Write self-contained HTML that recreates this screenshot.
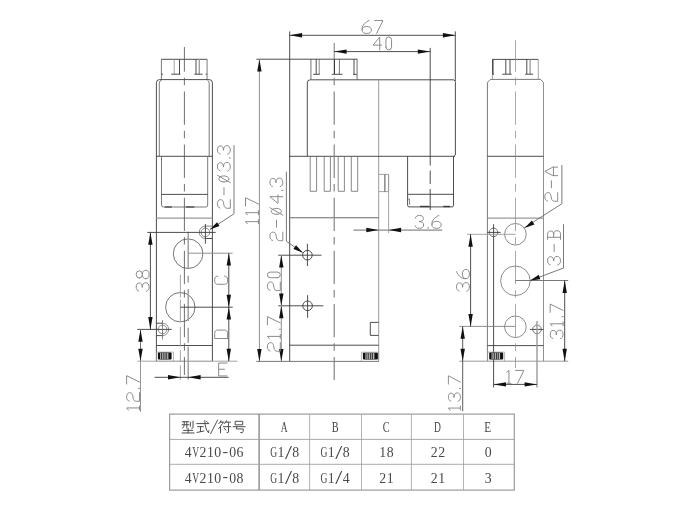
<!DOCTYPE html>
<html lang="en">
<head>
<meta charset="utf-8">
<title>4V210 solenoid valve dimensions</title>
<style>
html,body{margin:0;padding:0;background:#fff;}
body{width:693px;height:511px;overflow:hidden;font-family:"Liberation Sans",sans-serif;}
svg{will-change:transform;}
svg text{font-family:"Liberation Serif",serif;}
</style>
</head>
<body>
<svg width="693" height="511" viewBox="0 0 693 511" style="display:block" shape-rendering="geometricPrecision">
<line x1="161.1" y1="59.3" x2="207.3" y2="59.3" stroke="#3a3a3a" stroke-width="0.9"/>
<line x1="161.4" y1="59.3" x2="161.4" y2="79.8" stroke="#6a6a6a" stroke-width="0.9"/>
<line x1="161.4" y1="74.2" x2="163.0" y2="74.2" stroke="#3a3a3a" stroke-width="0.9"/>
<line x1="207.1" y1="59.3" x2="207.1" y2="79.8" stroke="#9a9a9a" stroke-width="1.3"/>
<line x1="205.6" y1="74.2" x2="207.1" y2="74.2" stroke="#3a3a3a" stroke-width="0.9"/>
<line x1="174.2" y1="59.3" x2="174.2" y2="74.2" stroke="#9a9a9a" stroke-width="0.9"/>
<line x1="179.5" y1="59.3" x2="179.5" y2="74.2" stroke="#3a3a3a" stroke-width="0.9"/>
<line x1="171.2" y1="74.2" x2="180.4" y2="74.2" stroke="#3a3a3a" stroke-width="0.9"/>
<line x1="196.0" y1="59.3" x2="196.0" y2="74.2" stroke="#3a3a3a" stroke-width="0.9"/>
<line x1="199.3" y1="59.3" x2="199.3" y2="74.2" stroke="#9a9a9a" stroke-width="1.3"/>
<line x1="194.4" y1="74.2" x2="202.6" y2="74.2" stroke="#3a3a3a" stroke-width="0.9"/>
<path d="M156.4,361.2 V82.8 Q156.4,79.6 159.6,79.6 H209.3 Q212.4,79.6 212.4,82.8 V361.2" stroke="#3a3a3a" stroke-width="0.9" fill="none" />
<path d="M159.3,156.3 V83.2 Q159.4,80.8 161.7,80.0" stroke="#6a6a6a" stroke-width="0.9" fill="none" />
<path d="M209.2,156.3 V83.2 Q209.1,80.8 207.3,80.0" stroke="#6a6a6a" stroke-width="0.9" fill="none" />
<line x1="156.4" y1="156.3" x2="212.4" y2="156.3" stroke="#3a3a3a" stroke-width="0.9"/>
<path d="M161.5,156.3 V205 Q161.5,207 163.5,207 H205.7 Q207.7,207 207.7,205 V156.3" stroke="#6a6a6a" stroke-width="0.9" fill="none" />
<line x1="161.5" y1="194.4" x2="207.7" y2="194.4" stroke="#3a3a3a" stroke-width="0.9"/>
<line x1="164.8" y1="207" x2="171.8" y2="207" stroke="#3a3a3a" stroke-width="1.15"/>
<line x1="185.9" y1="207" x2="194.4" y2="207" stroke="#3a3a3a" stroke-width="1.15"/>
<line x1="156.4" y1="218.2" x2="212.4" y2="218.2" stroke="#9a9a9a" stroke-width="1.3"/>
<line x1="156.4" y1="345.5" x2="212.4" y2="345.5" stroke="#3a3a3a" stroke-width="0.9"/>
<line x1="156.4" y1="361.2" x2="212.4" y2="361.2" stroke="#808080" stroke-width="0.9"/>
<circle cx="188.1" cy="253.7" r="14.8" stroke="#505050" stroke-width="0.8" fill="none"/>
<circle cx="180.3" cy="307.2" r="14.7" stroke="#505050" stroke-width="0.8" fill="none"/>
<circle cx="205.4" cy="232.4" r="4.3" stroke="#6a6a6a" stroke-width="0.75" fill="none"/>
<path d="M212.4,226.1 H205.4" stroke="#9a9a9a" stroke-width="1.2" fill="none" />
<path d="M205.4,226.1 A6.2,6.2 0 0 0 205.4,238.5" stroke="#6a6a6a" stroke-width="0.75" fill="none" />
<path d="M205.4,238.5 H212.4" stroke="#3a3a3a" stroke-width="0.9" fill="none" />
<circle cx="162.5" cy="329.4" r="4.3" stroke="#6a6a6a" stroke-width="0.75" fill="none"/>
<path d="M156.4,323.2 H162.5 M162.5,335.6 H156.4" stroke="#3a3a3a" stroke-width="0.9" fill="none" />
<path d="M162.5,323.2 A6.2,6.2 0 0 1 162.5,335.6" stroke="#6a6a6a" stroke-width="0.75" fill="none" />
<path d="M156.5,361.2 V352.1 H173.5 V361.2" stroke="#9a9a9a" stroke-width="0.7" fill="none" />
<rect x="157.9" y="352.6" width="13.70" height="7.00" rx="0.8" fill="#111"/>
<rect x="160.20" y="352.90" width="8.50" height="6.40" fill="#3c3c3c"/>
<rect x="160.40" y="352.90" width="0.60" height="6.40" fill="#f0f0f0"/>
<rect x="162.10" y="352.90" width="0.60" height="6.40" fill="#e0e0e0"/>
<rect x="163.80" y="352.90" width="0.60" height="6.40" fill="#f0f0f0"/>
<rect x="165.60" y="352.90" width="0.55" height="6.40" fill="#d0d0d0"/>
<rect x="167.40" y="352.90" width="0.80" height="6.40" fill="#ececec"/>
<line x1="184.4" y1="47" x2="184.4" y2="375" stroke="#555" stroke-width="0.85" stroke-dasharray="33.3 6 7.5 6.3" stroke-dashoffset="8.6"/>
<line x1="188.2" y1="231.7" x2="188.2" y2="268.6" stroke="#9a9a9a" stroke-width="1.4"/>
<line x1="188.2" y1="275.8" x2="188.2" y2="282.4" stroke="#9a9a9a" stroke-width="1.4"/>
<line x1="188.2" y1="289" x2="188.2" y2="321" stroke="#9a9a9a" stroke-width="1.4"/>
<line x1="188.2" y1="327.7" x2="188.2" y2="342.7" stroke="#9a9a9a" stroke-width="1.4"/>
<line x1="188.2" y1="346.5" x2="188.2" y2="379.5" stroke="#9a9a9a" stroke-width="1.4"/>
<line x1="180.4" y1="274.7" x2="180.4" y2="297.5" stroke="#9a9a9a" stroke-width="0.9"/>
<line x1="180.4" y1="299.5" x2="180.4" y2="321" stroke="#9a9a9a" stroke-width="0.9"/>
<line x1="180.4" y1="326.7" x2="180.4" y2="346.5" stroke="#9a9a9a" stroke-width="0.9"/>
<line x1="180.4" y1="350.3" x2="180.4" y2="361.6" stroke="#9a9a9a" stroke-width="0.9"/>
<line x1="180.4" y1="365.3" x2="180.4" y2="379.8" stroke="#9a9a9a" stroke-width="0.9"/>
<line x1="147.3" y1="232.4" x2="215.7" y2="232.4" stroke="#3a3a3a" stroke-width="0.9"/>
<line x1="205.4" y1="224" x2="205.4" y2="243.7" stroke="#3a3a3a" stroke-width="0.9"/>
<line x1="150.4" y1="232.4" x2="150.4" y2="329.4" stroke="#3a3a3a" stroke-width="0.9"/>
<polygon points="150.40,232.40 152.60,244.80 148.20,244.80" fill="#111"/>
<polygon points="150.40,329.40 148.20,317.00 152.60,317.00" fill="#111"/>
<line x1="137.3" y1="329.4" x2="171.8" y2="329.4" stroke="#3a3a3a" stroke-width="0.9"/>
<line x1="162.5" y1="320.1" x2="162.5" y2="339.5" stroke="#6a6a6a" stroke-width="0.8"/>
<g role="img" aria-label="38" transform="translate(149.1,291.25) rotate(-90)" stroke="#858585" stroke-width="0.95" fill="none" stroke-linecap="round" stroke-linejoin="round"><path transform="translate(0.00,0)" d="M0.17,-10.32C0.51,-12.00 2.12,-12.90 4.25,-12.90C6.80,-12.90 8.24,-11.87 8.24,-9.93C8.24,-8.00 6.97,-6.84 3.83,-6.84C7.22,-6.84 8.50,-5.42 8.50,-3.35C8.50,-1.16 6.80,-0.00 4.25,-0.00C1.87,-0.00 0.43,-0.90 0.00,-2.58"/><path transform="translate(12.50,0)" d="M0.55,-9.80 A3.70,3.10 0 1 0 7.95,-9.80 A3.70,3.10 0 1 0 0.55,-9.80M0.00,-3.35 A4.25,3.35 0 1 0 8.50,-3.35 A4.25,3.35 0 1 0 0.00,-3.35"/></g>
<line x1="140.5" y1="329.4" x2="140.5" y2="361.2" stroke="#6a6a6a" stroke-width="0.9"/>
<line x1="140.5" y1="361.2" x2="140.5" y2="411.7" stroke="#8a8a8a" stroke-width="0.9"/>
<polygon points="140.50,329.40 142.70,341.80 138.30,341.80" fill="#111"/>
<polygon points="140.50,361.20 138.30,348.80 142.70,348.80" fill="#111"/>
<line x1="137.3" y1="361.2" x2="156.4" y2="361.2" stroke="#9a9a9a" stroke-width="0.9"/>
<line x1="212.4" y1="361.2" x2="237.5" y2="361.2" stroke="#9a9a9a" stroke-width="0.9"/>
<g role="img" aria-label="12.7" transform="translate(139.5,410.3) rotate(-90)" stroke="#858585" stroke-width="0.95" fill="none" stroke-linecap="round" stroke-linejoin="round"><path transform="translate(0.00,0)" d="M0.2,-11.00 L2.35,-12.90 L2.35,0 M0.4,0 L4.3,0"/><path transform="translate(9.00,0)" d="M0.26,-10.32C0.43,-12.00 2.15,-12.90 4.30,-12.90C6.88,-12.90 8.60,-11.87 8.60,-9.93C8.60,-8.00 7.74,-7.22 5.85,-6.84L3.01,-6.32C1.03,-5.93 0.00,-4.90 0.00,-3.10L0.00,-0.00L8.60,-0.00"/><path transform="translate(21.50,0)" d="M0.5,-1.1 L0.5,0.1"/><path transform="translate(26.30,0)" d="M0.00,-12.90L8.30,-12.90L1.99,-0.00"/></g>
<line x1="188.2" y1="253.2" x2="232.7" y2="253.2" stroke="#868686" stroke-width="0.9"/>
<line x1="180.4" y1="307.2" x2="232.7" y2="307.2" stroke="#3a3a3a" stroke-width="0.9"/>
<line x1="228.8" y1="253.2" x2="228.8" y2="361.2" stroke="#3a3a3a" stroke-width="0.9"/>
<polygon points="228.80,253.20 231.00,265.60 226.60,265.60" fill="#111"/>
<polygon points="228.80,307.20 226.60,294.80 231.00,294.80" fill="#111"/>
<polygon points="228.80,307.20 231.00,319.60 226.60,319.60" fill="#111"/>
<polygon points="228.80,361.20 226.60,348.80 231.00,348.80" fill="#111"/>
<g role="img" aria-label="C" transform="translate(227.6,284.3) rotate(-90)" stroke="#858585" stroke-width="0.95" fill="none" stroke-linecap="round" stroke-linejoin="round"><path transform="translate(0.00,0)" d="M8.20,-9.80C8.20,-11.87 6.97,-12.90 5.08,-12.90L3.12,-12.90C1.23,-12.90 0.00,-11.87 0.00,-9.80L0.00,-3.10C0.00,-1.03 1.23,-0.00 3.12,-0.00L5.08,-0.00C6.97,-0.00 8.20,-1.03 8.20,-3.10"/></g>
<g role="img" aria-label="D" transform="translate(227.6,338.5) rotate(-90)" stroke="#858585" stroke-width="0.95" fill="none" stroke-linecap="round" stroke-linejoin="round"><path transform="translate(0.00,0)" d="M0.00,-0.00L0.00,-12.90L5.04,-12.90C7.14,-12.90 8.40,-11.87 8.40,-9.80L8.40,-3.10C8.40,-1.03 7.14,-0.00 5.04,-0.00L0.00,-0.00"/></g>
<line x1="154.6" y1="377.3" x2="228.6" y2="377.3" stroke="#3a3a3a" stroke-width="0.9"/>
<polygon points="180.40,377.30 168.00,379.50 168.00,375.10" fill="#111"/>
<polygon points="188.20,377.30 200.60,375.10 200.60,379.50" fill="#111"/>
<g role="img" aria-label="E" transform="translate(218.65,375.95)" stroke="#858585" stroke-width="0.95" fill="none" stroke-linecap="round" stroke-linejoin="round"><path transform="translate(0.00,0)" d="M8.40,-12.90L0.00,-12.90L0.00,-0.00L8.40,-0.00M0.00,-6.71L5.88,-6.71"/></g>
<path d="M209.9,229.6 L234,213.8 V145.2" stroke="#6a6a6a" stroke-width="0.9" fill="none" />
<polygon points="209.90,229.60 217.00,222.19 219.52,226.04" fill="#111"/>
<g role="img" aria-label="2-ø3.3" transform="translate(230.3,208.25) rotate(-90)" stroke="#858585" stroke-width="0.95" fill="none" stroke-linecap="round" stroke-linejoin="round"><path transform="translate(0.00,0)" d="M0.26,-10.32C0.43,-12.00 2.15,-12.90 4.30,-12.90C6.88,-12.90 8.60,-11.87 8.60,-9.93C8.60,-8.00 7.74,-7.22 5.85,-6.84L3.01,-6.32C1.03,-5.93 0.00,-4.90 0.00,-3.10L0.00,-0.00L8.60,-0.00"/><path transform="translate(12.50,0)" d="M1.00,-6.32L8.00,-6.32"/><path transform="translate(25.60,0)" d="M0.70,-6.45 A3.00,5.10 0 1 0 6.70,-6.45 A3.00,5.10 0 1 0 0.70,-6.45M0.0,0 L7.4,-12.90"/><path transform="translate(37.30,0)" d="M0.17,-10.32C0.51,-12.00 2.12,-12.90 4.25,-12.90C6.80,-12.90 8.24,-11.87 8.24,-9.93C8.24,-8.00 6.97,-6.84 3.83,-6.84C7.22,-6.84 8.50,-5.42 8.50,-3.35C8.50,-1.16 6.80,-0.00 4.25,-0.00C1.87,-0.00 0.43,-0.90 0.00,-2.58"/><path transform="translate(49.80,0)" d="M0.5,-1.1 L0.5,0.1"/><path transform="translate(54.10,0)" d="M0.17,-10.32C0.51,-12.00 2.12,-12.90 4.25,-12.90C6.80,-12.90 8.24,-11.87 8.24,-9.93C8.24,-8.00 6.97,-6.84 3.83,-6.84C7.22,-6.84 8.50,-5.42 8.50,-3.35C8.50,-1.16 6.80,-0.00 4.25,-0.00C1.87,-0.00 0.43,-0.90 0.00,-2.58"/></g>
<line x1="310.9" y1="59.2" x2="310.9" y2="79.6" stroke="#9a9a9a" stroke-width="1.4"/>
<line x1="357.1" y1="59.2" x2="357.1" y2="79.6" stroke="#9a9a9a" stroke-width="1.4"/>
<line x1="316.2" y1="59.2" x2="316.2" y2="74.3" stroke="#3a3a3a" stroke-width="0.9"/>
<line x1="319.2" y1="59.2" x2="319.2" y2="74.3" stroke="#6a6a6a" stroke-width="0.8"/>
<line x1="313.1" y1="74.3" x2="319.8" y2="74.3" stroke="#3a3a3a" stroke-width="0.9"/>
<line x1="334.4" y1="59.2" x2="334.4" y2="74.3" stroke="#3a3a3a" stroke-width="1.2"/>
<line x1="339.4" y1="59.2" x2="339.4" y2="74.3" stroke="#6a6a6a" stroke-width="0.9"/>
<line x1="331.8" y1="74.3" x2="342.5" y2="74.3" stroke="#3a3a3a" stroke-width="0.9"/>
<line x1="354.0" y1="59.2" x2="354.0" y2="74.3" stroke="#3a3a3a" stroke-width="0.9"/>
<line x1="353.0" y1="74.3" x2="356.7" y2="74.3" stroke="#3a3a3a" stroke-width="0.9"/>
<path d="M307.3,156.3 V82.8 Q307.3,79.8 310.3,79.8 H453.8 L455.4,81.6 V155 L453.8,156.3" stroke="#3a3a3a" stroke-width="0.9" fill="none" />
<line x1="378.7" y1="79.8" x2="378.7" y2="361.4" stroke="#9a9a9a" stroke-width="1.0"/>
<line x1="289.7" y1="156.3" x2="455" y2="156.3" stroke="#3a3a3a" stroke-width="0.9"/>
<line x1="289.7" y1="31.4" x2="289.7" y2="361.4" stroke="#3a3a3a" stroke-width="0.9"/>
<path d="M310.2,156.3 V191.3 H316.6 V156.3" stroke="#6a6a6a" stroke-width="0.8" fill="none" />
<path d="M324.2,156.3 V191.3 H330.4 V156.3" stroke="#6a6a6a" stroke-width="0.8" fill="none" />
<path d="M338.2,156.3 V191.3 H344.4 V156.3" stroke="#6a6a6a" stroke-width="0.8" fill="none" />
<path d="M351.3,156.3 V191.3 H357.7 V156.3" stroke="#6a6a6a" stroke-width="0.8" fill="none" />
<path d="M378.7,174.4 H388.6 V191.6 H378.7" stroke="#9a9a9a" stroke-width="0.9" fill="none" />
<line x1="384.9" y1="174.4" x2="384.9" y2="191.6" stroke="#3a3a3a" stroke-width="0.9"/>
<line x1="388.6" y1="174.4" x2="388.6" y2="233" stroke="#9a9a9a" stroke-width="0.9"/>
<path d="M407.6,156.3 V205.4 Q407.6,206.9 409.1,206.9 H452 Q453.5,206.9 453.5,205.4 V156.3" stroke="#3a3a3a" stroke-width="0.9" fill="none" />
<line x1="407.6" y1="194.3" x2="453.5" y2="194.3" stroke="#3a3a3a" stroke-width="0.9"/>
<path d="M407.6,199 H409.5 V204.7" stroke="#6a6a6a" stroke-width="0.8" fill="none" />
<line x1="420.1" y1="206.5" x2="429.5" y2="206.5" stroke="#3a3a3a" stroke-width="1.4"/>
<line x1="443.3" y1="206.5" x2="449.9" y2="206.5" stroke="#3a3a3a" stroke-width="1.4"/>
<line x1="289.7" y1="217.7" x2="378.7" y2="217.7" stroke="#6a6a6a" stroke-width="1.1"/>
<line x1="289.7" y1="345.2" x2="378.7" y2="345.2" stroke="#3a3a3a" stroke-width="0.9"/>
<line x1="256.2" y1="361.4" x2="378.7" y2="361.4" stroke="#6a6a6a" stroke-width="0.9"/>
<circle cx="307.4" cy="255.2" r="4.8" stroke="#3a3a3a" stroke-width="0.9" fill="none"/>
<circle cx="307.6" cy="305.8" r="4.8" stroke="#3a3a3a" stroke-width="0.9" fill="none"/>
<line x1="278.2" y1="255.2" x2="321.5" y2="255.2" stroke="#3a3a3a" stroke-width="0.9"/>
<line x1="307.4" y1="243.7" x2="307.4" y2="266" stroke="#3a3a3a" stroke-width="0.9"/>
<line x1="278.2" y1="305.8" x2="323.4" y2="305.8" stroke="#3a3a3a" stroke-width="0.9"/>
<line x1="307.6" y1="295.1" x2="307.6" y2="317.8" stroke="#3a3a3a" stroke-width="0.9"/>
<path d="M378.6,322.4 H370.3 V335.4 H378.6" stroke="#3a3a3a" stroke-width="0.9" fill="none" />
<path d="M361.4,361.4 V352.2 H378.6 V361.4" stroke="#9a9a9a" stroke-width="0.7" fill="none" />
<rect x="362.9" y="352.8" width="15.00" height="6.80" rx="0.8" fill="#111"/>
<rect x="365.42" y="353.10" width="9.31" height="6.20" fill="#3c3c3c"/>
<rect x="365.64" y="353.10" width="0.66" height="6.20" fill="#f0f0f0"/>
<rect x="367.50" y="353.10" width="0.66" height="6.20" fill="#e0e0e0"/>
<rect x="369.36" y="353.10" width="0.66" height="6.20" fill="#f0f0f0"/>
<rect x="371.33" y="353.10" width="0.60" height="6.20" fill="#d0d0d0"/>
<rect x="373.30" y="353.10" width="0.88" height="6.20" fill="#ececec"/>
<line x1="334.2" y1="43" x2="334.2" y2="58.8" stroke="#6a6a6a" stroke-width="0.9"/>
<line x1="334.2" y1="77.5" x2="334.2" y2="380" stroke="#808080" stroke-width="1.15" stroke-dasharray="33.3 6 7.5 6.3" stroke-dashoffset="39.1"/>
<line x1="430.2" y1="47.9" x2="430.2" y2="165.5" stroke="#3a3a3a" stroke-width="0.9"/>
<line x1="430.2" y1="170.6" x2="430.2" y2="184" stroke="#3a3a3a" stroke-width="0.9"/>
<line x1="430.2" y1="189" x2="430.2" y2="210" stroke="#3a3a3a" stroke-width="0.9"/>
<line x1="289.7" y1="35.3" x2="455.3" y2="35.3" stroke="#3a3a3a" stroke-width="0.9"/>
<polygon points="289.70,35.30 302.10,33.10 302.10,37.50" fill="#111"/>
<polygon points="455.30,35.30 442.90,37.50 442.90,33.10" fill="#111"/>
<line x1="455.3" y1="31.4" x2="455.3" y2="81" stroke="#3a3a3a" stroke-width="0.9"/>
<g role="img" aria-label="67" transform="translate(362.15,33.45)" stroke="#858585" stroke-width="0.95" fill="none" stroke-linecap="round" stroke-linejoin="round"><path transform="translate(0.00,0)" d="M6.99,-12.90C3.22,-11.35 0.00,-8.00 0.00,-5.16L0.00,-3.35C0.00,-1.03 1.84,-0.00 4.60,-0.00C7.36,-0.00 9.20,-1.03 9.20,-3.48C9.20,-5.93 7.36,-6.97 4.60,-6.97C2.02,-6.97 0.28,-5.93 0.00,-3.87"/><path transform="translate(12.50,0)" d="M0.00,-12.90L8.30,-12.90L1.99,-0.00"/></g>
<line x1="334.2" y1="51.6" x2="430.2" y2="51.6" stroke="#3a3a3a" stroke-width="0.9"/>
<polygon points="334.20,51.60 346.60,49.40 346.60,53.80" fill="#111"/>
<polygon points="430.20,51.60 417.80,53.80 417.80,49.40" fill="#111"/>
<g role="img" aria-label="40" transform="translate(373.05,49.9)" stroke="#858585" stroke-width="0.95" fill="none" stroke-linecap="round" stroke-linejoin="round"><path transform="translate(0.00,0)" d="M6.71,-0.00L6.71,-12.90L0.00,-4.77L8.60,-4.77"/><path transform="translate(12.50,0)" d="M0.4,-2.8 V-10.10 A2.8,2.8 0 0 1 6.0,-10.10 V-2.8 A2.8,2.8 0 0 1 0.4,-2.8Z"/></g>
<line x1="256.4" y1="59.2" x2="357.4" y2="59.2" stroke="#3a3a3a" stroke-width="0.9"/>
<line x1="259.4" y1="59.2" x2="259.4" y2="361.4" stroke="#8e8e8e" stroke-width="1.0"/>
<polygon points="259.40,59.20 261.60,71.60 257.20,71.60" fill="#111"/>
<polygon points="259.40,361.40 257.20,349.00 261.60,349.00" fill="#111"/>
<g role="img" aria-label="117" transform="translate(258.4,224.0) rotate(-90)" stroke="#858585" stroke-width="0.95" fill="none" stroke-linecap="round" stroke-linejoin="round"><path transform="translate(0.00,0)" d="M0.2,-11.00 L2.35,-12.90 L2.35,0 M0.4,0 L4.3,0"/><path transform="translate(9.00,0)" d="M0.2,-11.00 L2.35,-12.90 L2.35,0 M0.4,0 L4.3,0"/><path transform="translate(18.00,0)" d="M0.00,-12.90L8.30,-12.90L1.99,-0.00"/></g>
<line x1="281.3" y1="255.2" x2="281.3" y2="361.4" stroke="#8e8e8e" stroke-width="1.0"/>
<polygon points="281.30,255.20 283.50,267.60 279.10,267.60" fill="#111"/>
<polygon points="281.30,305.80 279.10,293.40 283.50,293.40" fill="#111"/>
<polygon points="281.30,305.80 283.50,318.20 279.10,318.20" fill="#111"/>
<polygon points="281.30,361.40 279.10,349.00 283.50,349.00" fill="#111"/>
<g role="img" aria-label="20" transform="translate(280.3,290.6) rotate(-90)" stroke="#858585" stroke-width="0.95" fill="none" stroke-linecap="round" stroke-linejoin="round"><path transform="translate(0.00,0)" d="M0.26,-10.32C0.43,-12.00 2.15,-12.90 4.30,-12.90C6.88,-12.90 8.60,-11.87 8.60,-9.93C8.60,-8.00 7.74,-7.22 5.85,-6.84L3.01,-6.32C1.03,-5.93 0.00,-4.90 0.00,-3.10L0.00,-0.00L8.60,-0.00"/><path transform="translate(12.50,0)" d="M0.4,-2.8 V-10.10 A2.8,2.8 0 0 1 6.0,-10.10 V-2.8 A2.8,2.8 0 0 1 0.4,-2.8Z"/></g>
<g role="img" aria-label="21.7" transform="translate(280.3,351.25) rotate(-90)" stroke="#858585" stroke-width="0.95" fill="none" stroke-linecap="round" stroke-linejoin="round"><path transform="translate(0.00,0)" d="M0.26,-10.32C0.43,-12.00 2.15,-12.90 4.30,-12.90C6.88,-12.90 8.60,-11.87 8.60,-9.93C8.60,-8.00 7.74,-7.22 5.85,-6.84L3.01,-6.32C1.03,-5.93 0.00,-4.90 0.00,-3.10L0.00,-0.00L8.60,-0.00"/><path transform="translate(12.50,0)" d="M0.2,-11.00 L2.35,-12.90 L2.35,0 M0.4,0 L4.3,0"/><path transform="translate(21.50,0)" d="M0.5,-1.1 L0.5,0.1"/><path transform="translate(26.30,0)" d="M0.00,-12.90L8.30,-12.90L1.99,-0.00"/></g>
<line x1="353.4" y1="230" x2="442.2" y2="230" stroke="#8a8a8a" stroke-width="1.25"/>
<polygon points="378.70,230.00 366.30,232.20 366.30,227.80" fill="#111"/>
<polygon points="388.70,230.00 401.10,227.80 401.10,232.20" fill="#111"/>
<g role="img" aria-label="3.6" transform="translate(415.15,228.35)" stroke="#858585" stroke-width="0.95" fill="none" stroke-linecap="round" stroke-linejoin="round"><path transform="translate(0.00,0)" d="M0.17,-10.32C0.51,-12.00 2.12,-12.90 4.25,-12.90C6.80,-12.90 8.24,-11.87 8.24,-9.93C8.24,-8.00 6.97,-6.84 3.83,-6.84C7.22,-6.84 8.50,-5.42 8.50,-3.35C8.50,-1.16 6.80,-0.00 4.25,-0.00C1.87,-0.00 0.43,-0.90 0.00,-2.58"/><path transform="translate(12.50,0)" d="M0.5,-1.1 L0.5,0.1"/><path transform="translate(16.80,0)" d="M6.99,-12.90C3.22,-11.35 0.00,-8.00 0.00,-5.16L0.00,-3.35C0.00,-1.03 1.84,-0.00 4.60,-0.00C7.36,-0.00 9.20,-1.03 9.20,-3.48C9.20,-5.93 7.36,-6.97 4.60,-6.97C2.02,-6.97 0.28,-5.93 0.00,-3.87"/></g>
<path d="M286.4,171.7 V241.3 L302.6,252.6" stroke="#6a6a6a" stroke-width="0.9" fill="none" />
<polygon points="302.90,252.80 293.38,248.97 296.01,245.19" fill="#111"/>
<g role="img" aria-label="2-ø4.3" transform="translate(282.8,240.7) rotate(-90)" stroke="#858585" stroke-width="0.95" fill="none" stroke-linecap="round" stroke-linejoin="round"><path transform="translate(0.00,0)" d="M0.26,-10.32C0.43,-12.00 2.15,-12.90 4.30,-12.90C6.88,-12.90 8.60,-11.87 8.60,-9.93C8.60,-8.00 7.74,-7.22 5.85,-6.84L3.01,-6.32C1.03,-5.93 0.00,-4.90 0.00,-3.10L0.00,-0.00L8.60,-0.00"/><path transform="translate(12.50,0)" d="M1.00,-6.32L8.00,-6.32"/><path transform="translate(25.60,0)" d="M0.70,-6.45 A3.00,5.10 0 1 0 6.70,-6.45 A3.00,5.10 0 1 0 0.70,-6.45M0.0,0 L7.4,-12.90"/><path transform="translate(37.30,0)" d="M6.71,-0.00L6.71,-12.90L0.00,-4.77L8.60,-4.77"/><path transform="translate(49.80,0)" d="M0.5,-1.1 L0.5,0.1"/><path transform="translate(54.10,0)" d="M0.17,-10.32C0.51,-12.00 2.12,-12.90 4.25,-12.90C6.80,-12.90 8.24,-11.87 8.24,-9.93C8.24,-8.00 6.97,-6.84 3.83,-6.84C7.22,-6.84 8.50,-5.42 8.50,-3.35C8.50,-1.16 6.80,-0.00 4.25,-0.00C1.87,-0.00 0.43,-0.90 0.00,-2.58"/></g>
<line x1="492.2" y1="59.4" x2="538.3" y2="59.4" stroke="#3a3a3a" stroke-width="0.9"/>
<line x1="492.8" y1="59.4" x2="492.8" y2="74.2" stroke="#3a3a3a" stroke-width="1.4"/>
<line x1="492.4" y1="74.2" x2="492.4" y2="79.4" stroke="#9a9a9a" stroke-width="0.9"/>
<line x1="492.4" y1="74.2" x2="494.0" y2="74.2" stroke="#3a3a3a" stroke-width="0.9"/>
<line x1="538.3" y1="59.4" x2="538.3" y2="79.4" stroke="#9a9a9a" stroke-width="0.9"/>
<line x1="505.8" y1="59.4" x2="505.8" y2="74.2" stroke="#3a3a3a" stroke-width="0.9"/>
<line x1="510.0" y1="59.4" x2="510.0" y2="74.2" stroke="#3a3a3a" stroke-width="0.9"/>
<line x1="502.2" y1="74.2" x2="511.6" y2="74.2" stroke="#3a3a3a" stroke-width="0.9"/>
<line x1="526.8" y1="59.4" x2="526.8" y2="74.2" stroke="#3a3a3a" stroke-width="0.9"/>
<line x1="530.1" y1="59.4" x2="530.1" y2="74.2" stroke="#9a9a9a" stroke-width="1.3"/>
<line x1="525.2" y1="74.2" x2="533.1" y2="74.2" stroke="#3a3a3a" stroke-width="0.9"/>
<path d="M487.4,361.2 V82.4 L490.4,79.4 H540.6 L543.5,82.4" stroke="#6a6a6a" stroke-width="0.9" fill="none" />
<line x1="543.5" y1="82.4" x2="543.5" y2="361.2" stroke="#848484" stroke-width="0.9"/>
<line x1="487.4" y1="156.3" x2="543.5" y2="156.3" stroke="#3a3a3a" stroke-width="0.9"/>
<line x1="487.4" y1="218.2" x2="543.5" y2="218.2" stroke="#9a9a9a" stroke-width="1.3"/>
<line x1="487.4" y1="345.6" x2="543.5" y2="345.6" stroke="#3a3a3a" stroke-width="0.9"/>
<line x1="459.3" y1="361.2" x2="568.2" y2="361.2" stroke="#8c8c8c" stroke-width="0.9"/>
<circle cx="515.4" cy="234.3" r="10.8" stroke="#707070" stroke-width="0.8" fill="none"/>
<circle cx="515.4" cy="280.8" r="14.8" stroke="#707070" stroke-width="0.8" fill="none"/>
<circle cx="515.4" cy="326.8" r="10.8" stroke="#707070" stroke-width="0.8" fill="none"/>
<circle cx="493.5" cy="232.4" r="4.3" stroke="#555" stroke-width="0.8" fill="none"/>
<circle cx="537.0" cy="329.4" r="4.3" stroke="#555" stroke-width="0.8" fill="none"/>
<line x1="487.4" y1="232.4" x2="500.6" y2="232.4" stroke="#3a3a3a" stroke-width="0.9"/>
<line x1="493.6" y1="224.2" x2="493.6" y2="387.4" stroke="#3a3a3a" stroke-width="0.9"/>
<line x1="529.9" y1="329.4" x2="543.4" y2="329.4" stroke="#3a3a3a" stroke-width="0.9"/>
<line x1="537.0" y1="321.1" x2="537.0" y2="387.4" stroke="#9a9a9a" stroke-width="1.4"/>
<path d="M487.6,361.2 V352.1 H504.6 V361.2" stroke="#9a9a9a" stroke-width="0.7" fill="none" />
<rect x="489.2" y="352.6" width="14.00" height="7.00" rx="0.8" fill="#111"/>
<rect x="491.55" y="352.90" width="8.69" height="6.40" fill="#3c3c3c"/>
<rect x="491.75" y="352.90" width="0.61" height="6.40" fill="#f0f0f0"/>
<rect x="493.49" y="352.90" width="0.61" height="6.40" fill="#e0e0e0"/>
<rect x="495.23" y="352.90" width="0.61" height="6.40" fill="#f0f0f0"/>
<rect x="497.07" y="352.90" width="0.56" height="6.40" fill="#d0d0d0"/>
<rect x="498.91" y="352.90" width="0.82" height="6.40" fill="#ececec"/>
<line x1="515.5" y1="40.3" x2="515.5" y2="368" stroke="#8c8c8c" stroke-width="0.75" stroke-dasharray="33.3 6 7.5 6.3" stroke-dashoffset="1.9"/>
<line x1="467" y1="234.3" x2="515.5" y2="234.3" stroke="#9a9a9a" stroke-width="0.9"/>
<line x1="459.3" y1="326.4" x2="515.4" y2="326.4" stroke="#808080" stroke-width="0.9"/>
<line x1="470.6" y1="234.3" x2="470.6" y2="326.4" stroke="#3a3a3a" stroke-width="0.9"/>
<polygon points="470.60,234.30 472.80,246.70 468.40,246.70" fill="#111"/>
<polygon points="470.60,326.40 468.40,314.00 472.80,314.00" fill="#111"/>
<g role="img" aria-label="36" transform="translate(469.4,291.15) rotate(-90)" stroke="#858585" stroke-width="0.95" fill="none" stroke-linecap="round" stroke-linejoin="round"><path transform="translate(0.00,0)" d="M0.17,-10.32C0.51,-12.00 2.12,-12.90 4.25,-12.90C6.80,-12.90 8.24,-11.87 8.24,-9.93C8.24,-8.00 6.97,-6.84 3.83,-6.84C7.22,-6.84 8.50,-5.42 8.50,-3.35C8.50,-1.16 6.80,-0.00 4.25,-0.00C1.87,-0.00 0.43,-0.90 0.00,-2.58"/><path transform="translate(12.50,0)" d="M6.99,-12.90C3.22,-11.35 0.00,-8.00 0.00,-5.16L0.00,-3.35C0.00,-1.03 1.84,-0.00 4.60,-0.00C7.36,-0.00 9.20,-1.03 9.20,-3.48C9.20,-5.93 7.36,-6.97 4.60,-6.97C2.02,-6.97 0.28,-5.93 0.00,-3.87"/></g>
<line x1="462.7" y1="326.4" x2="462.7" y2="411.2" stroke="#4a4a4a" stroke-width="0.9"/>
<polygon points="462.70,326.40 464.90,338.80 460.50,338.80" fill="#111"/>
<polygon points="462.70,361.20 460.50,348.80 464.90,348.80" fill="#111"/>
<g role="img" aria-label="13.7" transform="translate(460.4,410.4) rotate(-90) scale(1,0.93)" stroke="#858585" stroke-width="0.95" fill="none" stroke-linecap="round" stroke-linejoin="round"><path transform="translate(0.00,0)" d="M0.2,-11.00 L2.35,-12.90 L2.35,0 M0.4,0 L4.3,0"/><path transform="translate(9.00,0)" d="M0.17,-10.32C0.51,-12.00 2.12,-12.90 4.25,-12.90C6.80,-12.90 8.24,-11.87 8.24,-9.93C8.24,-8.00 6.97,-6.84 3.83,-6.84C7.22,-6.84 8.50,-5.42 8.50,-3.35C8.50,-1.16 6.80,-0.00 4.25,-0.00C1.87,-0.00 0.43,-0.90 0.00,-2.58"/><path transform="translate(21.50,0)" d="M0.5,-1.1 L0.5,0.1"/><path transform="translate(26.30,0)" d="M0.00,-12.90L8.30,-12.90L1.99,-0.00"/></g>
<line x1="515.4" y1="280.5" x2="568.2" y2="280.5" stroke="#6a6a6a" stroke-width="0.9"/>
<line x1="564.7" y1="280.5" x2="564.7" y2="361.2" stroke="#3a3a3a" stroke-width="0.9"/>
<polygon points="564.70,280.50 566.90,292.90 562.50,292.90" fill="#111"/>
<polygon points="564.70,361.20 562.50,348.80 566.90,348.80" fill="#111"/>
<g role="img" aria-label="31.7" transform="translate(563.1,338.65) rotate(-90)" stroke="#858585" stroke-width="0.95" fill="none" stroke-linecap="round" stroke-linejoin="round"><path transform="translate(0.00,0)" d="M0.17,-10.32C0.51,-12.00 2.12,-12.90 4.25,-12.90C6.80,-12.90 8.24,-11.87 8.24,-9.93C8.24,-8.00 6.97,-6.84 3.83,-6.84C7.22,-6.84 8.50,-5.42 8.50,-3.35C8.50,-1.16 6.80,-0.00 4.25,-0.00C1.87,-0.00 0.43,-0.90 0.00,-2.58"/><path transform="translate(12.50,0)" d="M0.2,-11.00 L2.35,-12.90 L2.35,0 M0.4,0 L4.3,0"/><path transform="translate(21.50,0)" d="M0.5,-1.1 L0.5,0.1"/><path transform="translate(26.30,0)" d="M0.00,-12.90L8.30,-12.90L1.99,-0.00"/></g>
<line x1="493.6" y1="384.4" x2="537" y2="384.4" stroke="#3a3a3a" stroke-width="0.9"/>
<polygon points="493.60,384.40 506.00,382.20 506.00,386.60" fill="#111"/>
<polygon points="537.00,384.40 524.60,386.60 524.60,382.20" fill="#111"/>
<g role="img" aria-label="17" transform="translate(506.6,383.3)" stroke="#858585" stroke-width="0.95" fill="none" stroke-linecap="round" stroke-linejoin="round"><path transform="translate(0.00,0)" d="M0.2,-11.00 L2.35,-12.90 L2.35,0 M0.4,0 L4.3,0"/><path transform="translate(9.00,0)" d="M0.00,-12.90L8.30,-12.90L1.99,-0.00"/></g>
<path d="M561.9,165 V203.7 L524,228" stroke="#6a6a6a" stroke-width="0.9" fill="none" />
<polygon points="524.70,227.90 531.88,220.57 534.36,224.44" fill="#111"/>
<g role="img" aria-label="2-A" transform="translate(557.7,201.25) rotate(-90)" stroke="#858585" stroke-width="0.95" fill="none" stroke-linecap="round" stroke-linejoin="round"><path transform="translate(0.00,0)" d="M0.26,-10.32C0.43,-12.00 2.15,-12.90 4.30,-12.90C6.88,-12.90 8.60,-11.87 8.60,-9.93C8.60,-8.00 7.74,-7.22 5.85,-6.84L3.01,-6.32C1.03,-5.93 0.00,-4.90 0.00,-3.10L0.00,-0.00L8.60,-0.00"/><path transform="translate(12.50,0)" d="M1.00,-6.32L8.00,-6.32"/><path transform="translate(25.60,0)" d="M0.00,-0.00L0.00,-4.90L4.25,-12.90L8.50,-4.90L8.50,-0.00M0.00,-4.26L8.50,-4.26"/></g>
<path d="M563.5,224.3 V268 L531,280.3" stroke="#6a6a6a" stroke-width="0.9" fill="none" />
<polygon points="530.20,280.50 538.75,274.82 540.37,279.13" fill="#111"/>
<g role="img" aria-label="3-B" transform="translate(560.5,264.95) rotate(-90)" stroke="#858585" stroke-width="0.95" fill="none" stroke-linecap="round" stroke-linejoin="round"><path transform="translate(0.00,0)" d="M0.17,-10.32C0.51,-12.00 2.12,-12.90 4.25,-12.90C6.80,-12.90 8.24,-11.87 8.24,-9.93C8.24,-8.00 6.97,-6.84 3.83,-6.84C7.22,-6.84 8.50,-5.42 8.50,-3.35C8.50,-1.16 6.80,-0.00 4.25,-0.00C1.87,-0.00 0.43,-0.90 0.00,-2.58"/><path transform="translate(12.50,0)" d="M1.00,-6.32L8.00,-6.32"/><path transform="translate(25.60,0)" d="M2.06,-0.00L2.06,-12.90M0.00,-12.90L5.16,-12.90C7.31,-12.90 8.34,-11.61 8.34,-9.93C8.34,-8.00 7.31,-6.84 5.16,-6.84L2.06,-6.84M5.16,-6.84C7.74,-6.84 8.60,-5.42 8.60,-3.48C8.60,-1.29 7.74,-0.00 5.16,-0.00L0.00,-0.00"/></g>
<rect x="169.6" y="414.1" width="344.7" height="76.0" fill="none" stroke="#9c9c9c" stroke-width="1.2"/>
<line x1="259.1" y1="414.1" x2="259.1" y2="490.1" stroke="#8a8a8a" stroke-width="1.4"/>
<line x1="309.6" y1="414.1" x2="309.6" y2="490.1" stroke="#aaa" stroke-width="0.9"/>
<line x1="361.5" y1="414.1" x2="361.5" y2="490.1" stroke="#aaa" stroke-width="0.9"/>
<line x1="411.4" y1="414.1" x2="411.4" y2="490.1" stroke="#aaa" stroke-width="0.9"/>
<line x1="463.5" y1="414.1" x2="463.5" y2="490.1" stroke="#aaa" stroke-width="0.9"/>
<line x1="169.6" y1="439.4" x2="514.3" y2="439.4" stroke="#a0a0a0" stroke-width="0.9"/>
<line x1="169.6" y1="464.3" x2="514.3" y2="464.3" stroke="#a0a0a0" stroke-width="0.9"/>
<text y="431.8" font-family="Liberation Serif, serif" font-size="15.3" fill="#484848"><tspan x="280.85" textLength="6.90" lengthAdjust="spacingAndGlyphs">A</tspan></text>
<text y="431.8" font-family="Liberation Serif, serif" font-size="15.3" fill="#484848"><tspan x="331.75" textLength="6.90" lengthAdjust="spacingAndGlyphs">B</tspan></text>
<text y="431.8" font-family="Liberation Serif, serif" font-size="15.3" fill="#484848"><tspan x="382.75" textLength="6.90" lengthAdjust="spacingAndGlyphs">C</tspan></text>
<text y="431.8" font-family="Liberation Serif, serif" font-size="15.3" fill="#484848"><tspan x="434.05" textLength="6.90" lengthAdjust="spacingAndGlyphs">D</tspan></text>
<text y="431.8" font-family="Liberation Serif, serif" font-size="15.3" fill="#484848"><tspan x="484.35" textLength="6.90" lengthAdjust="spacingAndGlyphs">E</tspan></text>
<text y="457.4" font-family="Liberation Serif, serif" font-size="15.3" fill="#484848"><tspan x="184.75" textLength="6.90" lengthAdjust="spacingAndGlyphs">4</tspan><tspan x="192.15" textLength="6.90" lengthAdjust="spacingAndGlyphs">V</tspan><tspan x="199.55" textLength="6.90" lengthAdjust="spacingAndGlyphs">2</tspan><tspan x="206.95" textLength="6.90" lengthAdjust="spacingAndGlyphs">1</tspan><tspan x="214.35" textLength="6.90" lengthAdjust="spacingAndGlyphs">0</tspan><tspan x="222.40" dy="-1.60" textLength="5.60" lengthAdjust="spacingAndGlyphs">-</tspan><tspan x="229.15" dy="1.60" textLength="6.90" lengthAdjust="spacingAndGlyphs">0</tspan><tspan x="236.55" textLength="6.90" lengthAdjust="spacingAndGlyphs">6</tspan></text>
<text y="482.9" font-family="Liberation Serif, serif" font-size="15.3" fill="#484848"><tspan x="184.75" textLength="6.90" lengthAdjust="spacingAndGlyphs">4</tspan><tspan x="192.15" textLength="6.90" lengthAdjust="spacingAndGlyphs">V</tspan><tspan x="199.55" textLength="6.90" lengthAdjust="spacingAndGlyphs">2</tspan><tspan x="206.95" textLength="6.90" lengthAdjust="spacingAndGlyphs">1</tspan><tspan x="214.35" textLength="6.90" lengthAdjust="spacingAndGlyphs">0</tspan><tspan x="222.40" dy="-1.60" textLength="5.60" lengthAdjust="spacingAndGlyphs">-</tspan><tspan x="229.15" dy="1.60" textLength="6.90" lengthAdjust="spacingAndGlyphs">0</tspan><tspan x="236.55" textLength="6.90" lengthAdjust="spacingAndGlyphs">8</tspan></text>
<text y="457.4" font-family="Liberation Serif, serif" font-size="15.3" fill="#484848"><tspan x="270.15" textLength="6.90" lengthAdjust="spacingAndGlyphs">G</tspan><tspan x="277.55" textLength="6.90" lengthAdjust="spacingAndGlyphs">1</tspan><tspan x="284.90" dy="1.30" font-size="18.6" textLength="7.00" lengthAdjust="spacingAndGlyphs">/</tspan><tspan x="292.35" dy="-1.30" textLength="6.90" lengthAdjust="spacingAndGlyphs">8</tspan></text>
<text y="482.9" font-family="Liberation Serif, serif" font-size="15.3" fill="#484848"><tspan x="270.15" textLength="6.90" lengthAdjust="spacingAndGlyphs">G</tspan><tspan x="277.55" textLength="6.90" lengthAdjust="spacingAndGlyphs">1</tspan><tspan x="284.90" dy="1.30" font-size="18.6" textLength="7.00" lengthAdjust="spacingAndGlyphs">/</tspan><tspan x="292.35" dy="-1.30" textLength="6.90" lengthAdjust="spacingAndGlyphs">8</tspan></text>
<text y="457.4" font-family="Liberation Serif, serif" font-size="15.3" fill="#484848"><tspan x="320.45" textLength="6.90" lengthAdjust="spacingAndGlyphs">G</tspan><tspan x="327.85" textLength="6.90" lengthAdjust="spacingAndGlyphs">1</tspan><tspan x="335.20" dy="1.30" font-size="18.6" textLength="7.00" lengthAdjust="spacingAndGlyphs">/</tspan><tspan x="342.65" dy="-1.30" textLength="6.90" lengthAdjust="spacingAndGlyphs">8</tspan></text>
<text y="482.9" font-family="Liberation Serif, serif" font-size="15.3" fill="#484848"><tspan x="320.45" textLength="6.90" lengthAdjust="spacingAndGlyphs">G</tspan><tspan x="327.85" textLength="6.90" lengthAdjust="spacingAndGlyphs">1</tspan><tspan x="335.20" dy="1.30" font-size="18.6" textLength="7.00" lengthAdjust="spacingAndGlyphs">/</tspan><tspan x="342.65" dy="-1.30" textLength="6.90" lengthAdjust="spacingAndGlyphs">4</tspan></text>
<text y="457.4" font-family="Liberation Serif, serif" font-size="15.3" fill="#484848"><tspan x="379.35" textLength="6.90" lengthAdjust="spacingAndGlyphs">1</tspan><tspan x="386.75" textLength="6.90" lengthAdjust="spacingAndGlyphs">8</tspan></text>
<text y="482.9" font-family="Liberation Serif, serif" font-size="15.3" fill="#484848"><tspan x="379.35" textLength="6.90" lengthAdjust="spacingAndGlyphs">2</tspan><tspan x="386.75" textLength="6.90" lengthAdjust="spacingAndGlyphs">1</tspan></text>
<text y="457.4" font-family="Liberation Serif, serif" font-size="15.3" fill="#484848"><tspan x="430.85" textLength="6.90" lengthAdjust="spacingAndGlyphs">2</tspan><tspan x="438.25" textLength="6.90" lengthAdjust="spacingAndGlyphs">2</tspan></text>
<text y="482.9" font-family="Liberation Serif, serif" font-size="15.3" fill="#484848"><tspan x="430.85" textLength="6.90" lengthAdjust="spacingAndGlyphs">2</tspan><tspan x="438.25" textLength="6.90" lengthAdjust="spacingAndGlyphs">1</tspan></text>
<text y="457.4" font-family="Liberation Serif, serif" font-size="15.3" fill="#484848"><tspan x="484.75" textLength="6.90" lengthAdjust="spacingAndGlyphs">0</tspan></text>
<text y="482.9" font-family="Liberation Serif, serif" font-size="15.3" fill="#484848"><tspan x="484.75" textLength="6.90" lengthAdjust="spacingAndGlyphs">3</tspan></text>
<g role="img" aria-label="型式/符号">
<path transform="translate(181.9,420.5) scale(1.02,1.03)" d="M0.3,1.2 H6.6 M0.2,4.1 H6.9 M2.3,1.2 V4.1 Q2.2,6.3 0.6,7.6 M4.8,1.2 V7.4 M8.3,1.6 V5.6 M10.9,0.6 V7 Q10.9,7.8 9.7,7.6 M1.6,9.6 H10.6 M6.1,7.6 V12 M0.2,12.1 H12" stroke="#484848" stroke-width="0.95" fill="none" stroke-linecap="round" stroke-linejoin="round"/>
<path transform="translate(196.6,420.5) scale(1.02,1.03)" d="M0.2,3 H12 M8,0.2 Q8.3,8.5 11.8,12 L12,9.8 M9.8,0.8 L11,2 M1,6 H6.6 M3.8,6 V10.8 M0.4,11.6 L7.2,10.2" stroke="#484848" stroke-width="0.95" fill="none" stroke-linecap="round" stroke-linejoin="round"/>
<line x1="217.8" y1="419.6" x2="210.4" y2="434.2" stroke="#484848" stroke-width="0.95"/>
<path transform="translate(218.5,420.5) scale(1.02,1.03)" d="M2.4,0.2 Q1.6,2 0.2,3.2 M1.8,1.6 H5.6 M3.4,1.6 L4.2,3 M7.8,0.2 Q7.2,2 6,3 M7.4,1.6 H11.8 M9.2,1.6 L10,3 M3.2,3.8 Q2,6.2 0.2,7.8 M2,6 V12 M4.6,6 H12 M9.8,3.8 V11.2 Q9.8,12 8.4,11.8 M5.8,7.6 L7.2,9.4" stroke="#484848" stroke-width="0.95" fill="none" stroke-linecap="round" stroke-linejoin="round"/>
<path transform="translate(232.9,420.5) scale(1.02,1.03)" d="M2.6,0.8 H9.6 V4.2 H2.6 Z M0.2,6 H12 M4,6 L3.2,8.2 H10.2 Q10.2,11.4 9.2,11.9 L7.6,11.7" stroke="#484848" stroke-width="0.95" fill="none" stroke-linecap="round" stroke-linejoin="round"/>
</g>
</svg>
</body>
</html>
